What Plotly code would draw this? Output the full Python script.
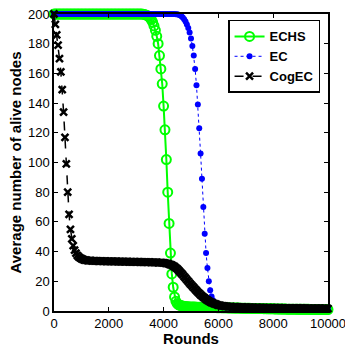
import plotly.graph_objects as go

rounds = list(range(0, 10001, 50))

echs = [
    200, 200, 200, 200, 200, 200, 200, 200, 200, 200,
    200, 200, 200, 200, 200, 200, 200, 200, 200, 200,
    200, 200, 200, 200, 200, 200, 200, 200, 200, 200,
    200, 200, 200, 200, 200, 200, 200, 200, 200, 200,
    200, 200, 200, 200, 200, 200, 200, 200, 200, 200,
    200, 200, 200, 200, 200, 200, 200, 200, 200, 200,
    200, 200, 200, 200, 199.95, 199.85, 199.7, 199.4, 199, 198.4,
    197.5, 196.3, 194.5, 192, 189, 185, 180, 172, 163, 153,
    138, 122, 102, 80, 59, 39, 25, 16, 9.5, 6.5,
    5.0, 4.2, 3.8, 3.5, 3.3, 3.1, 3.0, 2.9, 2.8, 2.75,
    2.7, 2.68, 2.65, 2.62, 2.6, 2.58, 2.55, 2.52, 2.5, 2.48,
    2.45, 2.43, 2.4, 2.38, 2.36, 2.34, 2.32, 2.3, 2.28, 2.26,
    2.24, 2.22, 2.2, 2.18, 2.16, 2.14, 2.12, 2.1, 2.08, 2.06,
    2.04, 2.02, 2.0, 1.98, 1.96, 1.94, 1.92, 1.9, 1.88, 1.86,
    1.84, 1.82, 1.8, 1.78, 1.76, 1.74, 1.72, 1.7, 1.68, 1.66,
    1.64, 1.62, 1.6, 1.58, 1.56, 1.54, 1.52, 1.5, 1.48, 1.46,
    1.44, 1.42, 1.4, 1.38, 1.36, 1.34, 1.32, 1.3, 1.28, 1.27,
    1.26, 1.25, 1.24, 1.23, 1.22, 1.21, 1.2, 1.19, 1.18, 1.17,
    1.16, 1.15, 1.14, 1.13, 1.12, 1.11, 1.1, 1.09, 1.08, 1.07,
    1.06, 1.05, 1.04, 1.03, 1.02, 1.01, 1.0, 0.99, 0.98, 0.97,
    0.96,
]

ec = [
    200, 200, 200, 200, 200, 200, 200, 200, 200, 200,
    200, 200, 200, 200, 200, 200, 200, 200, 200, 200,
    200, 200, 200, 200, 200, 200, 200, 200, 200, 200,
    200, 200, 200, 200, 200, 200, 200, 200, 200, 200,
    200, 200, 200, 200, 200, 200, 200, 200, 200, 200,
    200, 200, 200, 200, 200, 200, 200, 200, 200, 200,
    200, 200, 200, 200, 200, 200, 200, 200, 200, 200,
    200, 200, 200, 200, 200, 200, 200, 200, 200, 200,
    200, 200, 200, 200, 200, 200, 200, 200, 200, 199.9,
    199.8, 199.5, 199.1, 198.5, 197.6, 196.4, 195, 193, 190.5, 187.5,
    183.5, 178.5, 172, 163, 152, 139, 123, 106, 89, 70,
    52, 39, 29, 20, 14, 9.8, 7.2, 5.6, 4.6, 3.9,
    3.4, 3.1, 2.9, 2.75, 2.65, 2.58, 2.52, 2.47, 2.43, 2.4,
    2.37, 2.34, 2.31, 2.28, 2.25, 2.22, 2.19, 2.16, 2.13, 2.1,
    2.08, 2.06, 2.04, 2.02, 2.0, 1.98, 1.96, 1.94, 1.92, 1.9,
    1.88, 1.86, 1.84, 1.82, 1.8, 1.78, 1.76, 1.74, 1.72, 1.7,
    1.68, 1.66, 1.64, 1.62, 1.6, 1.58, 1.56, 1.54, 1.52, 1.5,
    1.49, 1.48, 1.47, 1.46, 1.45, 1.44, 1.43, 1.42, 1.41, 1.4,
    1.39, 1.38, 1.37, 1.36, 1.35, 1.34, 1.33, 1.32, 1.31, 1.3,
    1.29, 1.28, 1.27, 1.26, 1.25, 1.24, 1.23, 1.22, 1.21, 1.2,
    1.2,
]

cogec = [
    200, 193, 186, 179, 170, 161, 149, 134, 117, 99,
    80, 65, 55, 48.5, 44, 41, 39, 37.5, 36.5, 35.8,
    35.2, 34.8, 34.5, 34.3, 34.1, 34.0, 33.9, 33.85, 33.8, 33.75,
    33.7, 33.68, 33.65, 33.62, 33.6, 33.58, 33.55, 33.53, 33.5, 33.48,
    33.46, 33.44, 33.42, 33.4, 33.38, 33.36, 33.34, 33.32, 33.3, 33.28,
    33.26, 33.24, 33.22, 33.2, 33.18, 33.16, 33.14, 33.12, 33.1, 33.08,
    33.06, 33.04, 33.02, 33.0, 32.98, 32.96, 32.94, 32.92, 32.9, 32.87,
    32.84, 32.81, 32.78, 32.75, 32.72, 32.68, 32.64, 32.6, 32.55, 32.5,
    32.4, 32.3, 32.1, 31.9, 31.6, 31.3, 30.9, 30.4, 29.8, 29.1,
    28.3, 27.4, 26.4, 25.4, 24.3, 23.2, 22.1, 21.0, 19.9, 18.8,
    17.8, 16.7, 15.7, 14.7, 13.7, 12.7, 11.8, 10.9, 10.1, 9.3,
    8.6, 7.9, 7.3, 6.7, 6.2, 5.7, 5.3, 4.9, 4.6, 4.3,
    4.0, 3.8, 3.6, 3.45, 3.3, 3.2, 3.1, 3.0, 2.95, 2.9,
    2.85, 2.8, 2.76, 2.72, 2.68, 2.64, 2.6, 2.57, 2.54, 2.51,
    2.48, 2.45, 2.42, 2.4, 2.38, 2.36, 2.34, 2.32, 2.3, 2.28,
    2.26, 2.24, 2.22, 2.2, 2.18, 2.16, 2.14, 2.12, 2.1, 2.08,
    2.07, 2.06, 2.05, 2.04, 2.03, 2.02, 2.01, 2.0, 1.99, 1.98,
    1.97, 1.96, 1.95, 1.94, 1.93, 1.92, 1.91, 1.9, 1.89, 1.88,
    1.87, 1.86, 1.85, 1.84, 1.83, 1.82, 1.81, 1.8, 1.79, 1.78,
    1.77, 1.76, 1.75, 1.74, 1.73, 1.72, 1.71, 1.7, 1.69, 1.68,
    1.67,
]

x_ticks = [0, 2000, 4000, 6000, 8000, 10000]
y_ticks = [0, 20, 40, 60, 80, 100, 120, 140, 160, 180, 200]

FONT = "Liberation Sans, Arial, sans-serif"

fig = go.Figure()
fig.add_trace(go.Scatter(
    x=rounds, y=echs, name="ECHS", mode="lines+markers",
    line=dict(color="#00ff00", width=2),
    marker=dict(symbol="circle-open", size=9, color="#00ff00", line=dict(width=2, color="#00ff00")),
    cliponaxis=False,
))
fig.add_trace(go.Scatter(
    x=rounds, y=ec, name="EC", mode="lines+markers",
    line=dict(color="#0000ff", width=1, dash="dot"),
    marker=dict(symbol="circle", size=6, color="#0000ff"),
    cliponaxis=False,
))
fig.add_trace(go.Scatter(
    x=rounds, y=cogec, name="CogEC", mode="lines+markers",
    line=dict(color="#000000", width=1.5, dash="dash"),
    marker=dict(symbol="x-thin", size=7, color="#000000", line=dict(width=2.5, color="#000000")),
    cliponaxis=False,
))

axis_common = dict(
    showline=True, linecolor="black", linewidth=1.5, mirror="ticks",
    ticks="inside", ticklen=4, tickwidth=1, tickcolor="black",
    showgrid=False, zeroline=False, automargin=False,
    ticklabeloverflow="allow",
    tickfont=dict(family=FONT, size=13, color="black"),
)

fig.update_layout(
    width=345, height=347,
    margin=dict(l=54, r=17, t=14, b=36),
    paper_bgcolor="white", plot_bgcolor="white",
    font=dict(family=FONT, color="black"),
    xaxis=dict(range=[0, 10000], tickvals=x_ticks, ticktext=[str(v) for v in x_ticks],
               title=dict(text="Rounds", font=dict(family=FONT, size=15, weight="bold"), standoff=1),
               **axis_common),
    yaxis=dict(range=[0, 200], tickvals=y_ticks, ticktext=[str(v) for v in y_ticks],
               title=dict(text="Average number of alive nodes", font=dict(family=FONT, size=15, weight="bold"), standoff=3),
               **axis_common),
    legend=dict(x=0.971, xanchor="right", y=0.98, yanchor="top",
                bgcolor="white", bordercolor="black", borderwidth=1.5,
                font=dict(family=FONT, size=13, weight="bold", color="black"),
                itemwidth=30, tracegroupgap=0),
    showlegend=True,
)

fig.write_html("out.html")
